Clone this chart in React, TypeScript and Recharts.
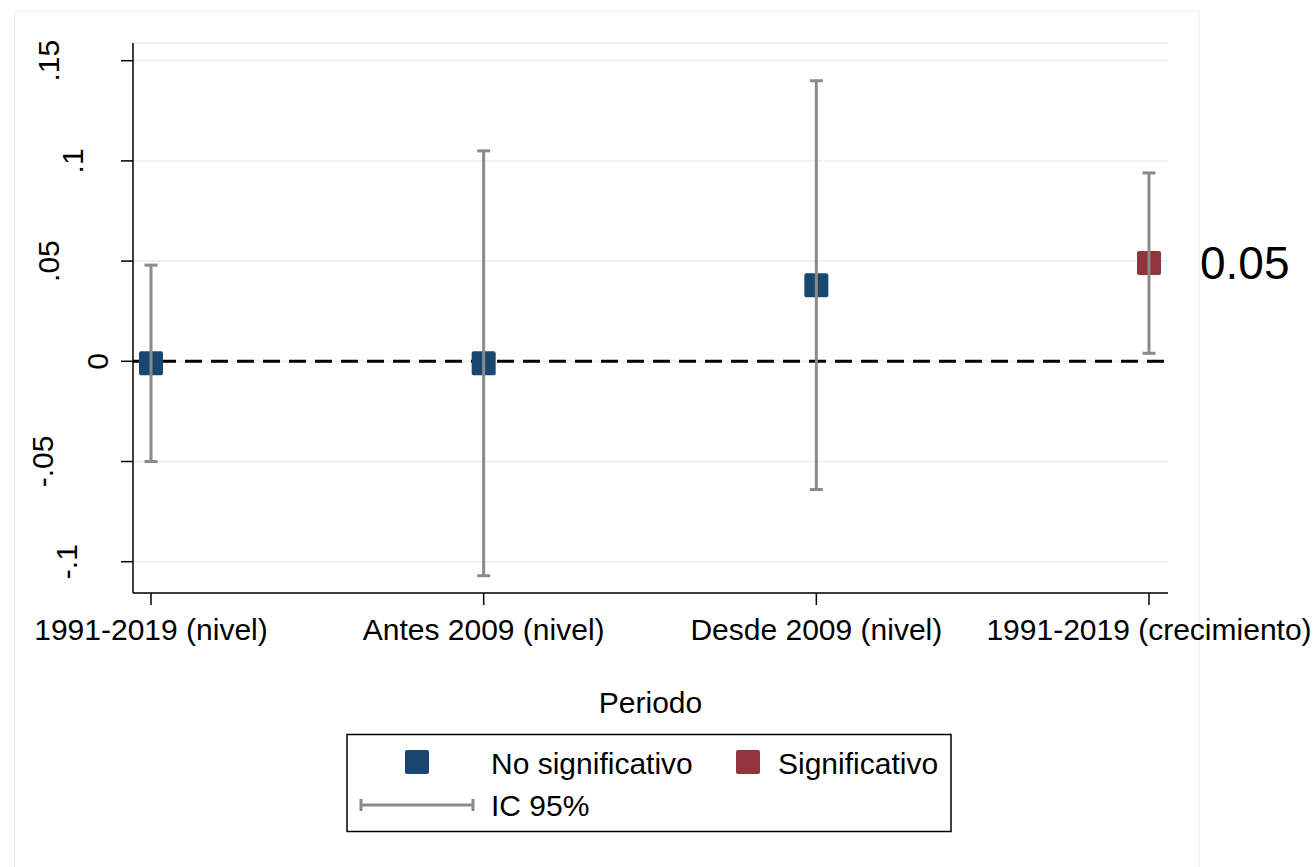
import React from 'react';
import {
  ComposedChart,
  Scatter,
  ErrorBar,
  XAxis,
  YAxis,
  CartesianGrid,
  ReferenceLine,
} from 'recharts';

const categories = ['1991-2019 (nivel)', 'Antes 2009 (nivel)', 'Desde 2009 (nivel)', '1991-2019 (crecimiento)'];
const positions = [1, 2, 3, 4];
const estimates = [-0.001, -0.001, 0.038, 0.049];
const ciLow = [-0.05, -0.107, -0.064, 0.004];
const ciHigh = [0.048, 0.105, 0.14, 0.094];
const significant = [false, false, false, true];

const yTicks = [-0.1, -0.05, 0, 0.05, 0.1, 0.15];
const yTickLabels = ['-.1', '-.05', '0', '.05', '.1', '.15'];

const FONT = '"Liberation Sans", Arial, Helvetica, sans-serif';
const NAVY = '#1a476f';
const MAROON = '#90353b';
const CI_GRAY = '#8a8a8a';
const GRID = '#eaf2f3';

const points = positions.map((x, i) => ({
  x,
  name: categories[i],
  est: estimates[i],
  err: [estimates[i] - ciLow[i], ciHigh[i] - estimates[i]],
  sig: significant[i],
}));

const nsPoints = points.filter((p) => !p.sig);
const sigPoints = points.filter((p) => p.sig);

// stata puts rotated labels at odd offsets, roughly per string
const yLabelShift: Record<string, number> = {
  '.15': -60,
  '.1': -36,
  '.05': -60,
  '0': -11,
  '-.05': -66,
  '-.1': -42,
};

const YTick = (props: any) => {
  const { x, y, payload } = props;
  const idx = yTicks.indexOf(payload.value);
  const label = idx >= 0 ? yTickLabels[idx] : String(payload.value);
  const bx = x + (yLabelShift[label] ?? -40);
  return (
    <text
      transform={`translate(${bx},${y}) rotate(-90)`}
      textAnchor="middle"
      fontSize={30}
      fontFamily={FONT}
      fill="#000"
    >
      {label}
    </text>
  );
};

const square = (color: string) => (props: any) => {
  const { cx, cy } = props;
  if (cx == null || cy == null) return <g />;
  return <rect x={cx - 12} y={cy - 12} width={24} height={24} rx={2} fill={color} />;
};

const SigShape = (props: any) => {
  const { cx, cy, payload } = props;
  if (cx == null || cy == null) return <g />;
  const v = payload && typeof payload.est === 'number' ? payload.est : estimates[3];
  return (
    <g>
      <rect x={cx - 12} y={cy - 12} width={24} height={24} rx={2} fill={MAROON} />
      <text x={cx + 51} y={cy + 16} fontSize={46} fontFamily={FONT} fill="#000">
        {v.toFixed(2)}
      </text>
    </g>
  );
};

const Legend = () => (
  <svg
    width={606}
    height={100}
    style={{ position: 'absolute', left: 346, top: 733 }}
    fontFamily={FONT}
  >
    <rect x={1} y={1.5} width={604} height={97} fill="#fff" stroke="#000" strokeWidth={1.5} />
    <rect x={59} y={17} width={24} height={24} rx={2} fill={NAVY} />
    <text x={145} y={41} fontSize={30} fill="#000">No significativo</text>
    <rect x={390} y={17} width={24} height={24} rx={2} fill={MAROON} />
    <text x={432} y={41} fontSize={30} fill="#000">Significativo</text>
    <line x1={15} y1={72} x2={127} y2={72} stroke={CI_GRAY} strokeWidth={3} />
    <line x1={15} y1={66} x2={15} y2={78} stroke={CI_GRAY} strokeWidth={3} />
    <line x1={127} y1={66} x2={127} y2={78} stroke={CI_GRAY} strokeWidth={3} />
    <text x={145} y={83} fontSize={30} fill="#000">IC 95%</text>
  </svg>
);

export default function App() {
  return (
    <div
      style={{
        position: 'absolute',
        left: 0,
        top: 0,
        width: 1314,
        height: 867,
        background: '#fff',
        overflow: 'hidden',
        fontFamily: FONT,
      }}
    >
      <div
        style={{
          position: 'absolute',
          left: 14,
          top: 11,
          width: 1184,
          height: 900,
          border: `1px solid ${GRID}`,
        }}
      />
      <ComposedChart
        width={1314}
        height={867}
        margin={{ top: 43, right: 146, bottom: 0, left: 0 }}
        style={{ position: 'absolute', left: 0, top: 0 }}
      >
        <CartesianGrid horizontal vertical={false} stroke={GRID} strokeWidth={2} />
        <XAxis
          type="number"
          dataKey="x"
          domain={[0.9459, 4.0571]}
          ticks={positions}
          tickFormatter={(v: number) => categories[positions.indexOf(v)] ?? ''}
          height={274}
          axisLine={{ stroke: '#000', strokeWidth: 1.5 }}
          tickLine={{ stroke: '#000', strokeWidth: 1.5 }}
          tickSize={12}
          tickMargin={14}
          tick={{ fill: '#000', fontSize: 30, fontFamily: FONT }}
          interval={0}
          label={{
            value: 'Periodo',
            position: 'insideTop',
            offset: 99,
            style: { fill: '#000', fontSize: 30, fontFamily: FONT },
          }}
        />
        <YAxis
          type="number"
          dataKey="est"
          domain={[-0.11562, 0.15883]}
          ticks={yTicks}
          width={133}
          axisLine={{ stroke: '#000', strokeWidth: 1.5 }}
          tickLine={{ stroke: '#000', strokeWidth: 1.5 }}
          tickSize={12}
          tick={<YTick />}
          interval={0}
        />
        <ReferenceLine y={0} stroke="#000" strokeWidth={3} strokeDasharray="17 9" />
        <Scatter data={nsPoints} dataKey="est" shape={square(NAVY)} isAnimationActive={false} />
        <Scatter data={sigPoints} dataKey="est" shape={<SigShape />} isAnimationActive={false} />
        <Scatter data={points} dataKey="est" shape={() => <g />} isAnimationActive={false} zIndex={1000}>
          <ErrorBar
            dataKey="err"
            direction="y"
            width={6.5}
            stroke={CI_GRAY}
            strokeWidth={3}
            zIndex={1000}
          />
        </Scatter>
      </ComposedChart>
      <Legend />
    </div>
  );
}
